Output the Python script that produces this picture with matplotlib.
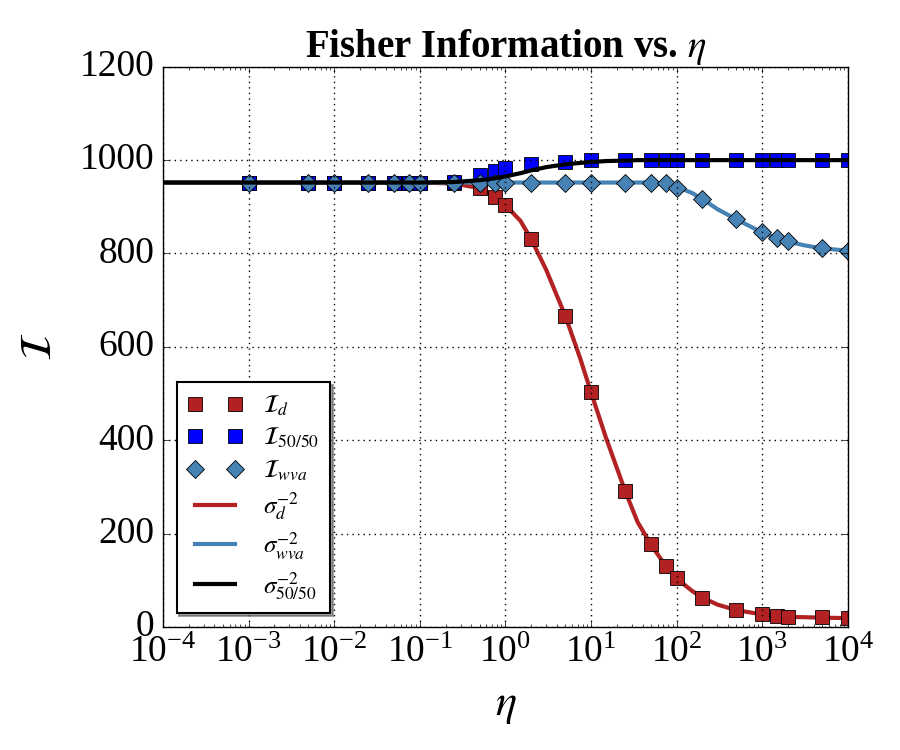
import numpy as np
import matplotlib
matplotlib.use('Agg')
import matplotlib.pyplot as plt

#%% data
eta_pts = [1e-3, 5e-3, 1e-2, 2.5e-2, 5e-2, 7.5e-2, 0.1, 0.25, 0.5, 0.75, 1, 2, 5,
           10, 25, 50, 75, 100, 200, 500, 1000, 1500, 2000, 5000, 10000]
I_d = [952, 952, 952, 952, 952, 952, 952, 950, 940, 921, 904, 831, 667,
       503, 292, 177, 130, 104, 63, 36, 27, 24, 22, 21, 20]
I_5050 = [952, 952, 952, 952, 952, 952, 952, 953, 968, 976, 983, 992, 997,
          1000, 1000, 1000, 1000, 1000, 1000, 1000, 1000, 1000, 1000, 1000, 1000]
I_wva = [952, 952, 952, 952, 952, 952, 952, 952, 952, 952, 952, 952, 952,
         952, 952, 952, 951, 940, 917, 873, 845, 833, 826, 811, 806]

eta_line = [1e-4, 1e-3, 1e-2, 0.1, 0.25, 0.5, 0.75, 1, 1.5, 2, 3, 5, 7.5, 10, 15,
            25, 35, 50, 75, 100, 150, 200, 300, 500, 1000, 1500, 2000, 3000,
            5000, 10000]
sig_d = [952, 952, 952, 952, 950, 940, 922, 904, 870, 831, 765, 667, 575, 503,
         405, 292, 225, 177, 130, 104, 78, 63, 48, 36, 27, 24, 22, 21, 20, 19]
sig_wva = [952, 952, 952, 952, 952, 952, 952, 952, 952, 952, 952, 952, 952, 952,
           952, 952, 952, 952, 950, 943, 930, 917, 895, 873, 845, 833, 826, 818,
           811, 806]
sig_5050 = [952, 952, 952, 952, 953, 957, 961, 965, 972, 978, 985, 991, 994, 996,
            998, 999, 1000, 1000, 1000, 1000, 1000, 1000, 1000, 1000, 1000, 1000,
            1000, 1000, 1000, 1000]

#%% style
plt.style.use('classic')
plt.rcParams['font.family'] = ['Liberation Serif', 'DejaVu Serif']
plt.rcParams['mathtext.fontset'] = 'stix'
plt.rcParams['figure.facecolor'] = 'white'
plt.rcParams['savefig.facecolor'] = 'white'

fig = plt.figure(figsize=(9, 7.5), dpi=100)
ax = fig.add_axes([0.181, 0.164, 0.761, 0.747])

red = '#b22222'
sblue = '#4682b4'

ax.plot(eta_pts, I_d, 's', color=red, mec='black', mew=0.6, ms=10,
        label=r'$\mathcal{I}_d$')
ax.plot(eta_pts, I_5050, 's', color='blue', mec='black', mew=0.6, ms=10,
        label=r'$\mathcal{I}_{50/50}$')
ax.plot(eta_pts, I_wva, 'D', color=sblue, mec='black', mew=0.6, ms=9,
        label=r'$\mathcal{I}_{wva}$')
ax.plot(eta_line, sig_d, '-', color=red, lw=3, label=r'$\sigma_d^{-2}$', zorder=1.5)
ax.plot(eta_line, sig_wva, '-', color=sblue, lw=3, label=r'$\sigma_{wva}^{-2}$', zorder=1.5)
ax.plot(eta_line, sig_5050, '-', color='black', lw=3, label=r'$\sigma_{50/50}^{-2}$')

ax.set_xscale('log')
ax.set_xlim(1e-4, 1e4)
ax.set_ylim(0, 1200)
ax.set_xticks([10.0**k for k in range(-4, 5)])
ax.grid(True, color='black', linestyle=':', linewidth=1)
ax.tick_params(axis='both', which='major', labelsize=27, pad=6)

ax.set_title(r'Fisher Information vs. $\eta$', fontsize=28, fontweight='bold', y=1.005)
ax.set_xlabel(r'$\eta$', fontsize=32, labelpad=12)
ax.set_ylabel(r'$\mathcal{I}$', fontsize=32, labelpad=14)

leg = ax.legend(loc='lower left', numpoints=2, fontsize=18, shadow=True,
                fancybox=False, bbox_to_anchor=(0.02, 0.025), borderaxespad=0,
                labelspacing=0.32, handlelength=2.2, borderpad=0.45)
leg.get_frame().set_linewidth(1.5)

fig.savefig('out.png', dpi=100)
